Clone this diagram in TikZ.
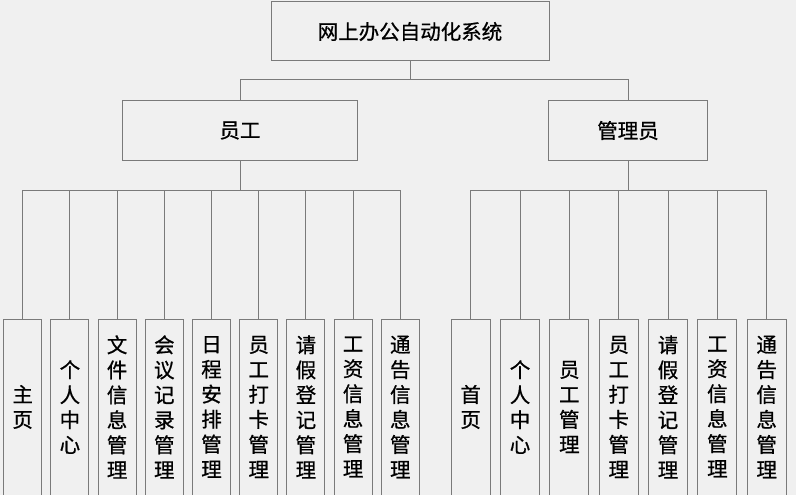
\documentclass[tikz,border=0pt]{standalone}
\usepackage{fontspec}
\setmainfont{Noto Sans CJK SC}[FakeBold=0.8]
\definecolor{linegray}{HTML}{7A7A7A}
\definecolor{bggray}{HTML}{F0F0F0}
\tikzset{
    box/.style={draw=linegray, line width=1pt, fill=bggray, inner sep=0pt, font=\fontsize{20.5}{25}\selectfont},
    leaf/.style={box, minimum width=38pt, minimum height=176pt, align=center},
    link/.style={draw=linegray, line width=1pt},
}

\begin{document}
\begin{tikzpicture}[x=1pt, y=-1pt]
    \fill[bggray] (0,0) rectangle (796,495);
    \useasboundingbox (0,0) rectangle (796,495);
    \node[box, minimum width=278pt, minimum height=59pt] (root) at (410,31.5) {网上办公自动化系统};
    \node[box, minimum width=235pt, minimum height=59pt] (staff) at (240,130.5) {员工};
    \node[box, minimum width=159pt, minimum height=59pt] (admin) at (628,130.5) {管理员};
    \draw[link] (root.south) -- ++(0,18) -| (staff.north);
    \draw[link] (root.south) -- ++(0,18) -| (admin.north);
    % staff modules
    \foreach \t [count=\i from 0] in {{主\\页}, {个\\人\\中\\心}, {文\\件\\信\\息\\管\\理}, {会\\议\\记\\录\\管\\理}, {日\\程\\安\\排\\管\\理}, {员\\工\\打\\卡\\管\\理}, {请\\假\\登\\记\\管\\理}, {工\\资\\信\\息\\管\\理}, {通\\告\\信\\息\\管\\理}} {
        \node[leaf] (s\i) at ({22.7+47.2*\i},407) {\t};
        \draw[link] (staff.south) -- ++(0,30) -| (s\i.north);
    }
    % admin modules
    \foreach \t [count=\i from 0] in {{首\\页}, {个\\人\\中\\心}, {员\\工\\管\\理}, {员\\工\\打\\卡\\管\\理}, {请\\假\\登\\记\\管\\理}, {工\\资\\信\\息\\管\\理}, {通\\告\\信\\息\\管\\理}} {
        \node[leaf, minimum width=39pt] (a\i) at ({470.7+49.33*\i},407) {\t};
        \draw[link] (admin.south) -- ++(0,30) -| (a\i.north);
    }
\end{tikzpicture}
\end{document}
